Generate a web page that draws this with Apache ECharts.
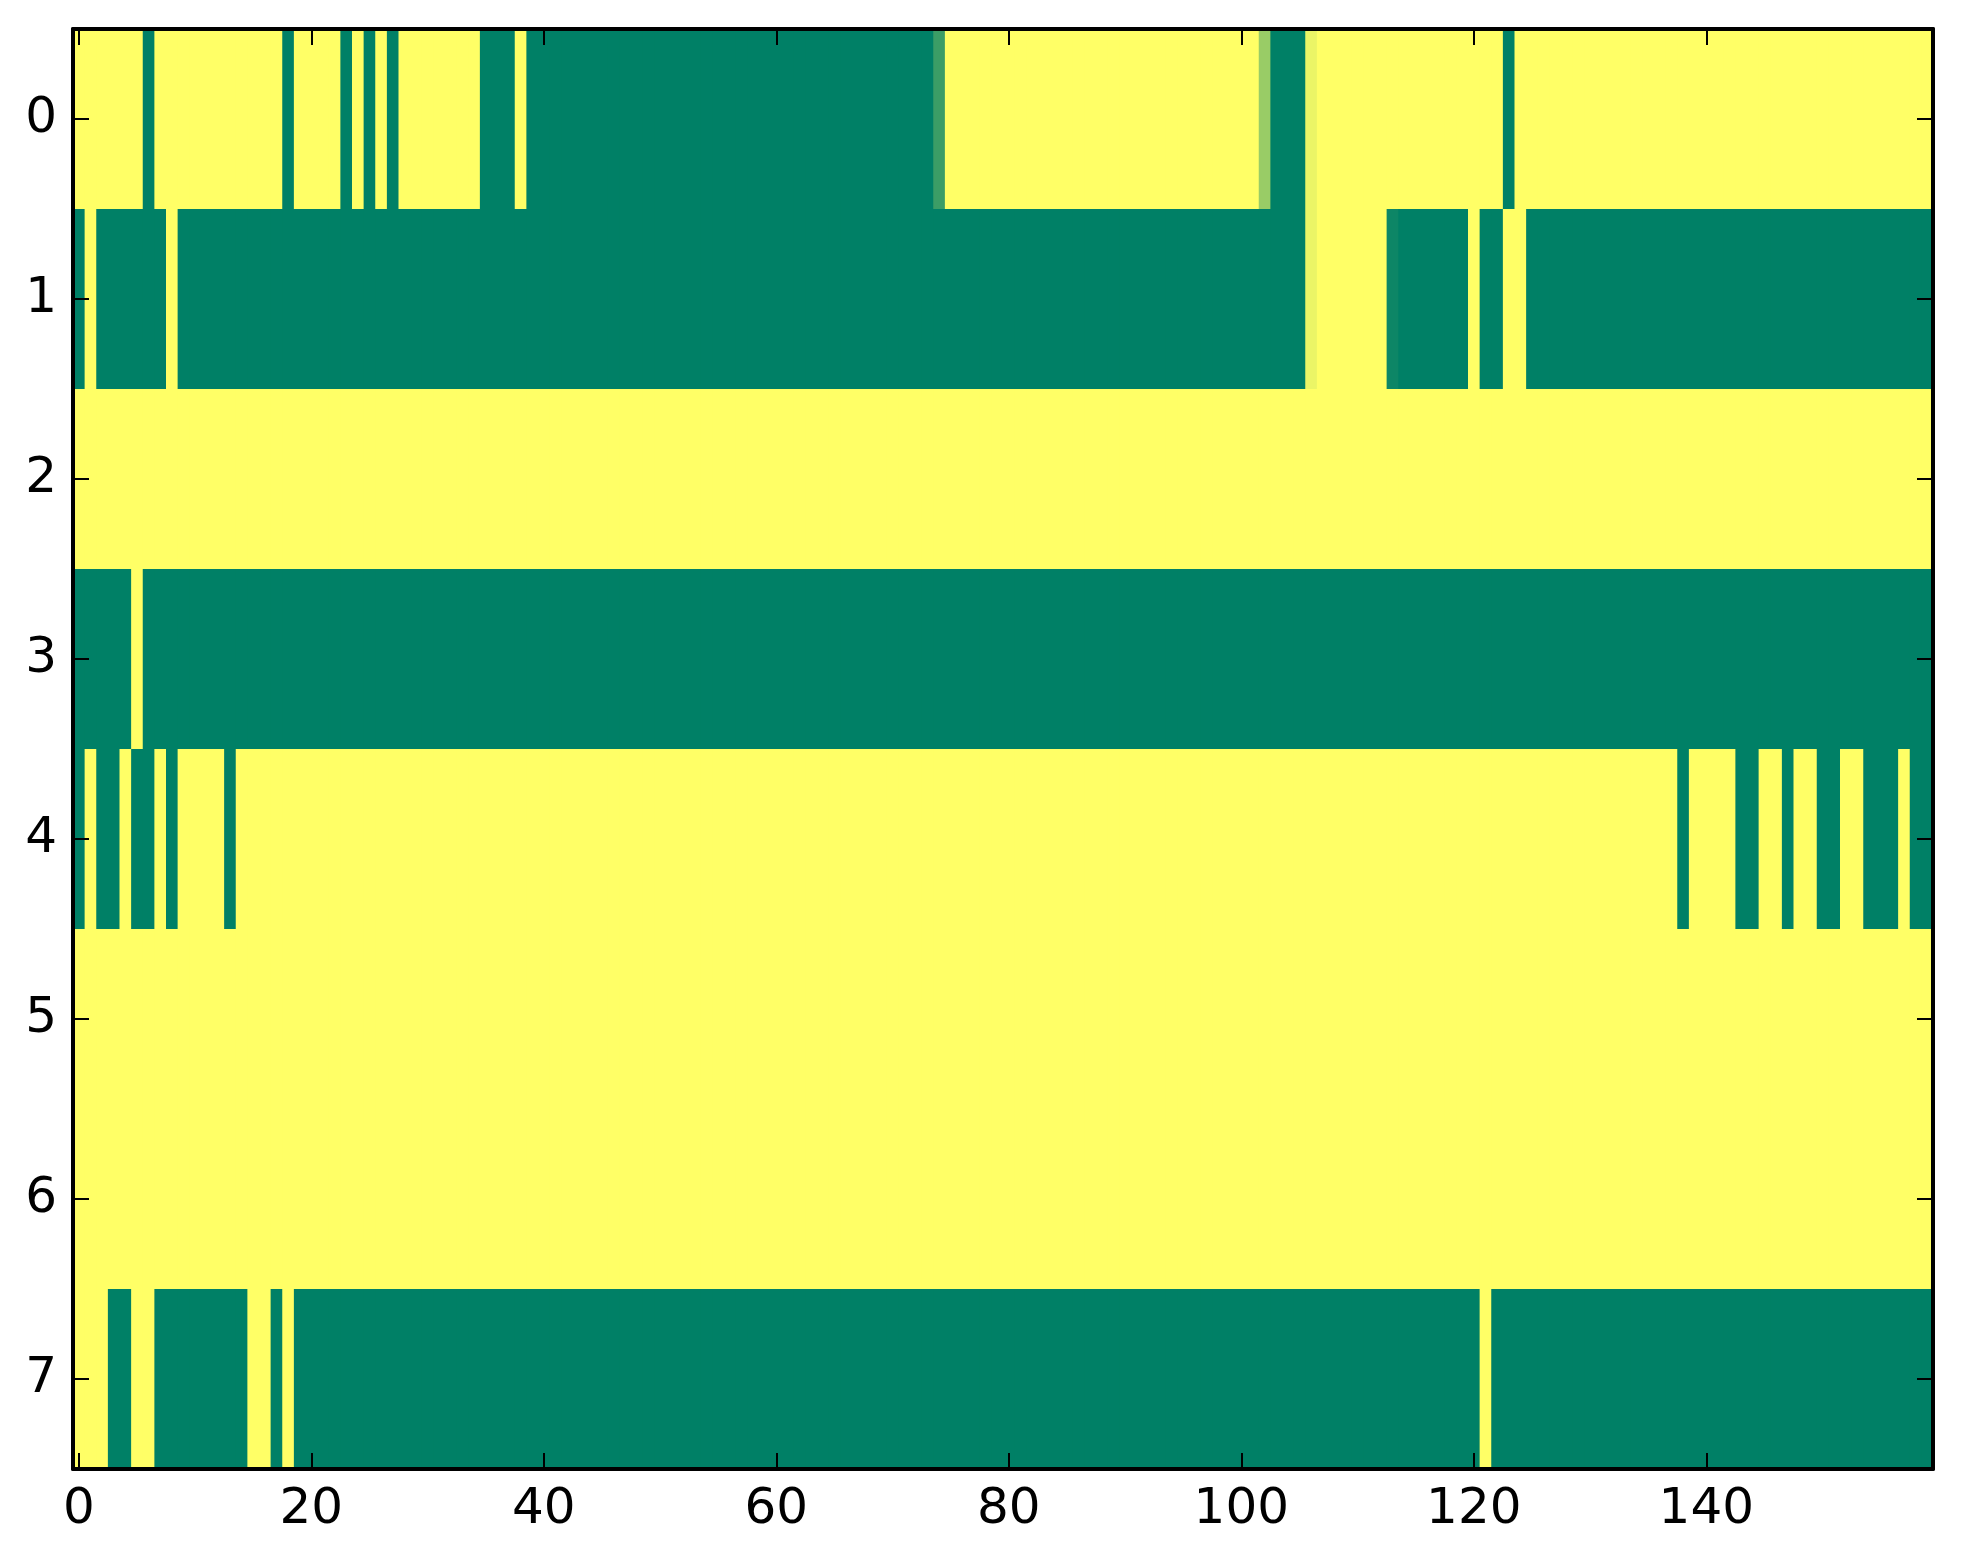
<!DOCTYPE html>
<html>
<head>
<meta charset="utf-8">
<script src="https://cdn.jsdelivr.net/npm/echarts@6/dist/echarts.min.js"></script>
<style>
html,body{margin:0;padding:0;background:#fff;}
#chart{width:1963px;height:1564px;}
</style>
</head>
<body>
<div id="chart"></div>
<script>
// Cell values (0 = green end, 1 = yellow end of the "summer" colormap), 160 columns per row
const row0 = [
  1,1,1,1,1,1,0,1,1,1, 1,1,1,1,1,1,1,1,0,1,
  1,1,1,0,1,0,1,0,1,1, 1,1,1,1,1,0,0,0,1,0,
  0,0,0,0,0,0,0,0,0,0, 0,0,0,0,0,0,0,0,0,0,
  0,0,0,0,0,0,0,0,0,0, 0,0,0,0,0.23,1,1,1,1,1,
  1,1,1,1,1,1,1,1,1,1, 1,1,1,1,1,1,1,1,1,1,
  1,1,0.6,0,0,0,0.92,1,1,1, 1,1,1,1,1,1,1,1,1,1,
  1,1,1,0,1,1,1,1,1,1, 1,1,1,1,1,1,1,1,1,1,
  1,1,1,1,1,1,1,1,1,1, 1,1,1,1,1,1,1,1,1,1
];
const row1 = [
  0,1,0,0,0,0,0,0,1,0, 0,0,0,0,0,0,0,0,0,0,
  0,0,0,0,0,0,0,0,0,0, 0,0,0,0,0,0,0,0,0,0,
  0,0,0,0,0,0,0,0,0,0, 0,0,0,0,0,0,0,0,0,0,
  0,0,0,0,0,0,0,0,0,0, 0,0,0,0,0,0,0,0,0,0,
  0,0,0,0,0,0,0,0,0,0, 0,0,0,0,0,0,0,0,0,0,
  0,0,0,0,0,0,0.92,1,1,1, 1,1,1,0.05,0,0,0,0,0,0,
  1,0,0,1,1,0,0,0,0,0, 0,0,0,0,0,0,0,0,0,0,
  0,0,0,0,0,0,0,0,0,0, 0,0,0,0,0,0,0,0,0,0
];
const row2 = [
  1,1,1,1,1,1,1,1,1,1, 1,1,1,1,1,1,1,1,1,1,
  1,1,1,1,1,1,1,1,1,1, 1,1,1,1,1,1,1,1,1,1,
  1,1,1,1,1,1,1,1,1,1, 1,1,1,1,1,1,1,1,1,1,
  1,1,1,1,1,1,1,1,1,1, 1,1,1,1,1,1,1,1,1,1,
  1,1,1,1,1,1,1,1,1,1, 1,1,1,1,1,1,1,1,1,1,
  1,1,1,1,1,1,1,1,1,1, 1,1,1,1,1,1,1,1,1,1,
  1,1,1,1,1,1,1,1,1,1, 1,1,1,1,1,1,1,1,1,1,
  1,1,1,1,1,1,1,1,1,1, 1,1,1,1,1,1,1,1,1,1
];
const row3 = [
  0,0,0,0,0,1,0,0,0,0, 0,0,0,0,0,0,0,0,0,0,
  0,0,0,0,0,0,0,0,0,0, 0,0,0,0,0,0,0,0,0,0,
  0,0,0,0,0,0,0,0,0,0, 0,0,0,0,0,0,0,0,0,0,
  0,0,0,0,0,0,0,0,0,0, 0,0,0,0,0,0,0,0,0,0,
  0,0,0,0,0,0,0,0,0,0, 0,0,0,0,0,0,0,0,0,0,
  0,0,0,0,0,0,0,0,0,0, 0,0,0,0,0,0,0,0,0,0,
  0,0,0,0,0,0,0,0,0,0, 0,0,0,0,0,0,0,0,0,0,
  0,0,0,0,0,0,0,0,0,0, 0,0,0,0,0,0,0,0,0,0
];
const row4 = [
  0,1,0,0,1,0,0,1,0,1, 1,1,1,0,1,1,1,1,1,1,
  1,1,1,1,1,1,1,1,1,1, 1,1,1,1,1,1,1,1,1,1,
  1,1,1,1,1,1,1,1,1,1, 1,1,1,1,1,1,1,1,1,1,
  1,1,1,1,1,1,1,1,1,1, 1,1,1,1,1,1,1,1,1,1,
  1,1,1,1,1,1,1,1,1,1, 1,1,1,1,1,1,1,1,1,1,
  1,1,1,1,1,1,1,1,1,1, 1,1,1,1,1,1,1,1,1,1,
  1,1,1,1,1,1,1,1,1,1, 1,1,1,1,1,1,1,1,0,1,
  1,1,1,0,0,1,1,0,1,1, 0,0,1,1,0,0,0,1,0,0
];
const row5 = [
  1,1,1,1,1,1,1,1,1,1, 1,1,1,1,1,1,1,1,1,1,
  1,1,1,1,1,1,1,1,1,1, 1,1,1,1,1,1,1,1,1,1,
  1,1,1,1,1,1,1,1,1,1, 1,1,1,1,1,1,1,1,1,1,
  1,1,1,1,1,1,1,1,1,1, 1,1,1,1,1,1,1,1,1,1,
  1,1,1,1,1,1,1,1,1,1, 1,1,1,1,1,1,1,1,1,1,
  1,1,1,1,1,1,1,1,1,1, 1,1,1,1,1,1,1,1,1,1,
  1,1,1,1,1,1,1,1,1,1, 1,1,1,1,1,1,1,1,1,1,
  1,1,1,1,1,1,1,1,1,1, 1,1,1,1,1,1,1,1,1,1
];
const row6 = [
  1,1,1,1,1,1,1,1,1,1, 1,1,1,1,1,1,1,1,1,1,
  1,1,1,1,1,1,1,1,1,1, 1,1,1,1,1,1,1,1,1,1,
  1,1,1,1,1,1,1,1,1,1, 1,1,1,1,1,1,1,1,1,1,
  1,1,1,1,1,1,1,1,1,1, 1,1,1,1,1,1,1,1,1,1,
  1,1,1,1,1,1,1,1,1,1, 1,1,1,1,1,1,1,1,1,1,
  1,1,1,1,1,1,1,1,1,1, 1,1,1,1,1,1,1,1,1,1,
  1,1,1,1,1,1,1,1,1,1, 1,1,1,1,1,1,1,1,1,1,
  1,1,1,1,1,1,1,1,1,1, 1,1,1,1,1,1,1,1,1,1
];
const row7 = [
  1,1,1,0,0,1,1,0,0,0, 0,0,0,0,0,1,1,0,1,0,
  0,0,0,0,0,0,0,0,0,0, 0,0,0,0,0,0,0,0,0,0,
  0,0,0,0,0,0,0,0,0,0, 0,0,0,0,0,0,0,0,0,0,
  0,0,0,0,0,0,0,0,0,0, 0,0,0,0,0,0,0,0,0,0,
  0,0,0,0,0,0,0,0,0,0, 0,0,0,0,0,0,0,0,0,0,
  0,0,0,0,0,0,0,0,0,0, 0,0,0,0,0,0,0,0,0,0,
  0,1,0,0,0,0,0,0,0,0, 0,0,0,0,0,0,0,0,0,0,
  0,0,0,0,0,0,0,0,0,0, 0,0,0,0,0,0,0,0,0,0
];
const rows = [row0, row1, row2, row3, row4, row5, row6, row7];
const yLabels = ['0','1','2','3','4','5','6','7'];
const xTickLabels = ['0','20','40','60','80','100','120','140'];
const colorLow = '#008066';
const colorHigh = '#ffff66';

// Build category list (column indices) and cell triples from the arrays
const xCategories = [];
for (let i = 0; i < row0.length; i++) xCategories.push(String(i));
const cellData = [];
rows.forEach((r, y) => r.forEach((v, x) => cellData.push([x, y, v])));

const FONT = 'DejaVu Sans';
const showX = (idx) => xTickLabels.indexOf(String(idx)) >= 0;
const axisLine = { show: true, lineStyle: { color: '#000', width: 4 } };
const tickStyle = { color: '#000', width: 2 };

const chart = echarts.init(document.getElementById('chart'), null, { renderer: 'canvas' });
chart.setOption({
  animation: false,
  backgroundColor: '#fff',
  grid: { left: 73, right: 30, top: 29, bottom: 95, containLabel: false },
  xAxis: [
    {
      type: 'category', data: xCategories, position: 'bottom', boundaryGap: true, z: 10,
      axisLine: axisLine,
      axisTick: { show: true, inside: true, length: 16, alignWithLabel: true, interval: (i) => showX(i), lineStyle: tickStyle },
      axisLabel: { show: true, interval: (i) => showX(i), margin: 16, fontFamily: FONT, fontSize: 50, color: '#000' },
      splitLine: { show: false }
    },
    {
      type: 'category', data: xCategories, position: 'top', boundaryGap: true, z: 10,
      axisLine: axisLine,
      axisTick: { show: true, inside: true, length: 16, alignWithLabel: true, interval: (i) => showX(i), lineStyle: tickStyle },
      axisLabel: { show: false },
      splitLine: { show: false }
    }
  ],
  yAxis: [
    {
      type: 'category', data: yLabels, position: 'left', inverse: true, boundaryGap: true, z: 10,
      axisLine: axisLine,
      axisTick: { show: true, inside: true, length: 16, alignWithLabel: true, interval: 0, lineStyle: tickStyle },
      axisLabel: { show: true, interval: 0, margin: 16, fontFamily: FONT, fontSize: 50, color: '#000' },
      splitLine: { show: false }
    },
    {
      type: 'category', data: yLabels, position: 'right', inverse: true, boundaryGap: true, z: 10,
      axisLine: axisLine,
      axisTick: { show: true, inside: true, length: 16, alignWithLabel: true, interval: 0, lineStyle: tickStyle },
      axisLabel: { show: false },
      splitLine: { show: false }
    }
  ],
  visualMap: {
    type: 'continuous', show: false, min: 0, max: 1, dimension: 2, seriesIndex: 0,
    inRange: { color: [colorLow, colorHigh] }
  },
  series: [{
    type: 'custom',
    xAxisIndex: 0, yAxisIndex: 0,
    data: cellData,
    encode: { x: 0, y: 1 },
    z: 2,
    silent: true,
    renderItem: function (params, api) {
      const c = api.coord([api.value(0), api.value(1)]);
      const s = api.size([1, 1]);
      const color = api.visual('color');
      // overlap slightly to avoid anti-aliasing seams between adjacent cells
      return {
        type: 'rect',
        shape: { x: c[0] - s[0] / 2, y: c[1] - s[1] / 2, width: s[0] + 1, height: s[1] + 1 },
        style: { fill: color, stroke: null }
      };
    },
    clip: true
  }]
});
</script>
</body>
</html>
